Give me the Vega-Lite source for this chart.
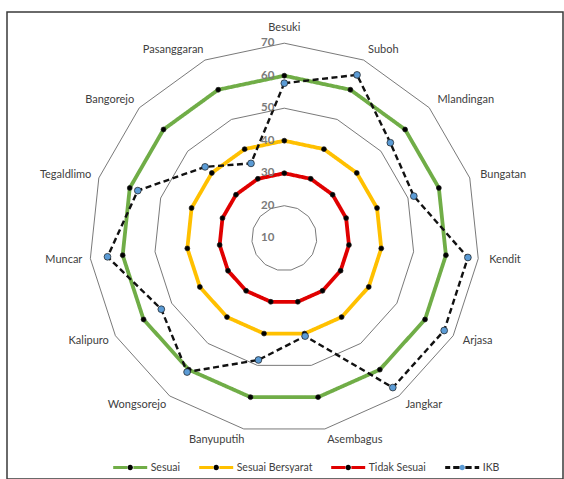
{
  "$schema": "https://vega.github.io/schema/vega-lite/v6.json",
  "width": 556,
  "height": 467,
  "autosize": {"type": "none"},
  "padding": {"left": 7, "top": 12, "right": 1, "bottom": 0},
  "background": "white",
  "config": {
    "view": {"stroke": "#3a3a3a", "strokeWidth": 1.5},
    "font": "Lato"
  },
  "datasets": {
    "nilai": [
      {"kecamatan": "Besuki", "seri": "Sesuai", "nilai": 60},
      {"kecamatan": "Suboh", "seri": "Sesuai", "nilai": 60},
      {"kecamatan": "Mlandingan", "seri": "Sesuai", "nilai": 60},
      {"kecamatan": "Bungatan", "seri": "Sesuai", "nilai": 60},
      {"kecamatan": "Kendit", "seri": "Sesuai", "nilai": 60},
      {"kecamatan": "Arjasa", "seri": "Sesuai", "nilai": 60},
      {"kecamatan": "Jangkar", "seri": "Sesuai", "nilai": 60},
      {"kecamatan": "Asembagus", "seri": "Sesuai", "nilai": 60},
      {"kecamatan": "Banyuputih", "seri": "Sesuai", "nilai": 60},
      {"kecamatan": "Wongsorejo", "seri": "Sesuai", "nilai": 60},
      {"kecamatan": "Kalipuro", "seri": "Sesuai", "nilai": 60},
      {"kecamatan": "Muncar", "seri": "Sesuai", "nilai": 60},
      {"kecamatan": "Tegaldlimo", "seri": "Sesuai", "nilai": 60},
      {"kecamatan": "Bangorejo", "seri": "Sesuai", "nilai": 60},
      {"kecamatan": "Pasanggaran", "seri": "Sesuai", "nilai": 60},
      {"kecamatan": "Besuki", "seri": "Sesuai Bersyarat", "nilai": 40},
      {"kecamatan": "Suboh", "seri": "Sesuai Bersyarat", "nilai": 40},
      {"kecamatan": "Mlandingan", "seri": "Sesuai Bersyarat", "nilai": 40},
      {"kecamatan": "Bungatan", "seri": "Sesuai Bersyarat", "nilai": 40},
      {"kecamatan": "Kendit", "seri": "Sesuai Bersyarat", "nilai": 40},
      {"kecamatan": "Arjasa", "seri": "Sesuai Bersyarat", "nilai": 40},
      {"kecamatan": "Jangkar", "seri": "Sesuai Bersyarat", "nilai": 40},
      {"kecamatan": "Asembagus", "seri": "Sesuai Bersyarat", "nilai": 40},
      {"kecamatan": "Banyuputih", "seri": "Sesuai Bersyarat", "nilai": 40},
      {"kecamatan": "Wongsorejo", "seri": "Sesuai Bersyarat", "nilai": 40},
      {"kecamatan": "Kalipuro", "seri": "Sesuai Bersyarat", "nilai": 40},
      {"kecamatan": "Muncar", "seri": "Sesuai Bersyarat", "nilai": 40},
      {"kecamatan": "Tegaldlimo", "seri": "Sesuai Bersyarat", "nilai": 40},
      {"kecamatan": "Bangorejo", "seri": "Sesuai Bersyarat", "nilai": 40},
      {"kecamatan": "Pasanggaran", "seri": "Sesuai Bersyarat", "nilai": 40},
      {"kecamatan": "Besuki", "seri": "Tidak Sesuai", "nilai": 30},
      {"kecamatan": "Suboh", "seri": "Tidak Sesuai", "nilai": 30},
      {"kecamatan": "Mlandingan", "seri": "Tidak Sesuai", "nilai": 30},
      {"kecamatan": "Bungatan", "seri": "Tidak Sesuai", "nilai": 30},
      {"kecamatan": "Kendit", "seri": "Tidak Sesuai", "nilai": 30},
      {"kecamatan": "Arjasa", "seri": "Tidak Sesuai", "nilai": 30},
      {"kecamatan": "Jangkar", "seri": "Tidak Sesuai", "nilai": 30},
      {"kecamatan": "Asembagus", "seri": "Tidak Sesuai", "nilai": 30},
      {"kecamatan": "Banyuputih", "seri": "Tidak Sesuai", "nilai": 30},
      {"kecamatan": "Wongsorejo", "seri": "Tidak Sesuai", "nilai": 30},
      {"kecamatan": "Kalipuro", "seri": "Tidak Sesuai", "nilai": 30},
      {"kecamatan": "Muncar", "seri": "Tidak Sesuai", "nilai": 30},
      {"kecamatan": "Tegaldlimo", "seri": "Tidak Sesuai", "nilai": 30},
      {"kecamatan": "Bangorejo", "seri": "Tidak Sesuai", "nilai": 30},
      {"kecamatan": "Pasanggaran", "seri": "Tidak Sesuai", "nilai": 30},
      {"kecamatan": "Besuki", "seri": "IKB", "nilai": 57.7},
      {"kecamatan": "Suboh", "seri": "IKB", "nilai": 65.0},
      {"kecamatan": "Mlandingan", "seri": "IKB", "nilai": 53.9},
      {"kecamatan": "Bungatan", "seri": "IKB", "nilai": 51.9},
      {"kecamatan": "Kendit", "seri": "IKB", "nilai": 66.8},
      {"kecamatan": "Arjasa", "seri": "IKB", "nilai": 66.8},
      {"kecamatan": "Jangkar", "seri": "IKB", "nilai": 66.8},
      {"kecamatan": "Asembagus", "seri": "IKB", "nilai": 40.8},
      {"kecamatan": "Banyuputih", "seri": "IKB", "nilai": 48.3},
      {"kecamatan": "Wongsorejo", "seri": "IKB", "nilai": 60.9},
      {"kecamatan": "Kalipuro", "seri": "IKB", "nilai": 53.7},
      {"kecamatan": "Muncar", "seri": "IKB", "nilai": 64.7},
      {"kecamatan": "Tegaldlimo", "seri": "IKB", "nilai": 57.4},
      {"kecamatan": "Bangorejo", "seri": "IKB", "nilai": 42.8},
      {"kecamatan": "Pasanggaran", "seri": "IKB", "nilai": 35.2}
    ],
    "skala": [
      {"nilai": 10}, {"nilai": 20}, {"nilai": 30}, {"nilai": 40},
      {"nilai": 50}, {"nilai": 60}, {"nilai": 70}
    ]
  },
  "encoding": {
    "x": {
      "field": "px", "type": "quantitative", "axis": null,
      "scale": {"domain": [-85.32, 85.75], "nice": false, "zero": false}
    },
    "y": {
      "field": "py", "type": "quantitative", "axis": null,
      "scale": {"domain": [-74.09, 69.6], "nice": false, "zero": false}
    }
  },
  "layer": [
    {
      "description": "Polygon gridlines of the radial axis (20 to 70)",
      "data": {"name": "skala"},
      "transform": [
        {"filter": "datum.nilai > 10"},
        {"calculate": "sequence(0, 15)", "as": "k"},
        {"flatten": ["k"]},
        {"calculate": "datum.k * 2 * PI / 15", "as": "sudut"},
        {"calculate": "(datum.nilai - 10) * sin(datum.sudut)", "as": "px"},
        {"calculate": "(datum.nilai - 10) * cos(datum.sudut)", "as": "py"}
      ],
      "mark": {"type": "line", "interpolate": "linear-closed", "stroke": "#6a6a6a", "strokeWidth": 0.9},
      "encoding": {
        "detail": {"field": "nilai", "type": "nominal"},
        "order": {"field": "k", "type": "quantitative"}
      }
    },
    {
      "description": "Series outlines; the legend symbol is a line with a dot in its middle",
      "data": {"name": "nilai"},
      "transform": [
        {"window": [{"op": "row_number", "as": "k"}], "groupby": ["seri"]},
        {"calculate": "(datum.k - 1) * 2 * PI / 15", "as": "sudut"},
        {"calculate": "(datum.nilai - 10) * sin(datum.sudut)", "as": "px"},
        {"calculate": "(datum.nilai - 10) * cos(datum.sudut)", "as": "py"}
      ],
      "mark": {"type": "line", "interpolate": "linear-closed"},
      "encoding": {
        "order": {"field": "k", "type": "quantitative"},
        "color": {
          "field": "seri", "type": "nominal",
          "scale": {
            "domain": ["Sesuai", "Sesuai Bersyarat", "Tidak Sesuai", "IKB"],
            "range": ["#70AD47", "#FFC000", "#E00000", "#111111"]
          },
          "legend": {
            "orient": "none", "direction": "horizontal",
            "legendX": 104.7, "legendY": 436.7,
            "title": null, "padding": 0,
            "symbolType": "M-1,0H-0.16A0.16,0.16 0 1,1 0.16,0A0.16,0.16 0 1,1 -0.16,0L0.16,0H1",
            "symbolSize": 1156, "symbolStrokeWidth": 3,
            "labelFont": "Lato", "labelFontSize": 10.5, "labelColor": "#404040",
            "labelOffset": 2, "columnPadding": 12,
            "encode": {
              "symbols": {
                "update": {
                  "fill": {"signal": "datum.value === 'IKB' ? '#5B9BD5' : '#000000'"},
                  "fillOpacity": {"value": 1},
                  "strokeDash": {"signal": "datum.value === 'IKB' ? [5, 3, 6.28, 22.53, 6.28, 3, 5, 100] : [14.28, 22.53, 30, 0]"}
                }
              }
            }
          }
        },
        "strokeDash": {
          "condition": {"test": "datum.seri === 'IKB'", "value": [6, 3.5]},
          "value": [1, 0]
        },
        "strokeWidth": {
          "condition": {"test": "datum.seri === 'IKB'", "value": 2.4},
          "value": 3.8
        }
      }
    },
    {
      "description": "Series markers",
      "data": {"name": "nilai"},
      "transform": [
        {"window": [{"op": "row_number", "as": "k"}], "groupby": ["seri"]},
        {"calculate": "(datum.k - 1) * 2 * PI / 15", "as": "sudut"},
        {"calculate": "(datum.nilai - 10) * sin(datum.sudut)", "as": "px"},
        {"calculate": "(datum.nilai - 10) * cos(datum.sudut)", "as": "py"}
      ],
      "mark": {"type": "point", "shape": "circle", "filled": true, "opacity": 1, "stroke": "#1a1a1a", "strokeWidth": 0.7},
      "encoding": {
        "fill": {
          "condition": {"test": "datum.seri === 'IKB'", "value": "#5B9BD5"},
          "value": "#000000"
        },
        "size": {
          "condition": {"test": "datum.seri === 'IKB'", "value": 46},
          "value": 24
        }
      }
    },
    {
      "description": "Category labels, right side",
      "data": {"name": "nilai"},
      "transform": [
        {"filter": "datum.seri === 'IKB'"},
        {"window": [{"op": "row_number", "as": "k"}]},
        {"calculate": "(datum.k - 1) * 2 * PI / 15", "as": "sudut"},
        {"calculate": "63.4 * sin(datum.sudut)", "as": "px"},
        {"calculate": "63.4 * cos(datum.sudut)", "as": "py"},
        {"filter": "sin(datum.sudut) > 0.1"}
      ],
      "mark": {"type": "text", "align": "left", "baseline": "middle", "font": "Lato", "fontSize": 11, "fill": "#404040"},
      "encoding": {"text": {"field": "kecamatan"}}
    },
    {
      "description": "Category labels, left side",
      "data": {"name": "nilai"},
      "transform": [
        {"filter": "datum.seri === 'IKB'"},
        {"window": [{"op": "row_number", "as": "k"}]},
        {"calculate": "(datum.k - 1) * 2 * PI / 15", "as": "sudut"},
        {"calculate": "63.4 * sin(datum.sudut)", "as": "px"},
        {"calculate": "63.4 * cos(datum.sudut)", "as": "py"},
        {"filter": "sin(datum.sudut) < -0.1"}
      ],
      "mark": {"type": "text", "align": "right", "baseline": "middle", "dx": 3, "font": "Lato", "fontSize": 11, "fill": "#404040"},
      "encoding": {"text": {"field": "kecamatan"}}
    },
    {
      "description": "Category label at the top",
      "data": {"name": "nilai"},
      "transform": [
        {"filter": "datum.seri === 'IKB'"},
        {"window": [{"op": "row_number", "as": "k"}]},
        {"filter": "datum.k === 1"},
        {"calculate": "0", "as": "px"},
        {"calculate": "63.4", "as": "py"}
      ],
      "mark": {"type": "text", "align": "center", "baseline": "middle", "dy": -4, "font": "Lato", "fontSize": 11, "fill": "#404040"},
      "encoding": {"text": {"field": "kecamatan"}}
    },
    {
      "description": "Radial axis labels",
      "data": {"name": "skala"},
      "transform": [
        {"calculate": "0", "as": "px"},
        {"calculate": "datum.nilai - 10", "as": "py"}
      ],
      "mark": {"type": "text", "align": "right", "baseline": "middle", "dx": -10, "font": "Lato", "fontSize": 11.5, "fontWeight": "bold", "fill": "#7a7a7a"},
      "encoding": {"text": {"field": "nilai"}}
    }
  ]
}
